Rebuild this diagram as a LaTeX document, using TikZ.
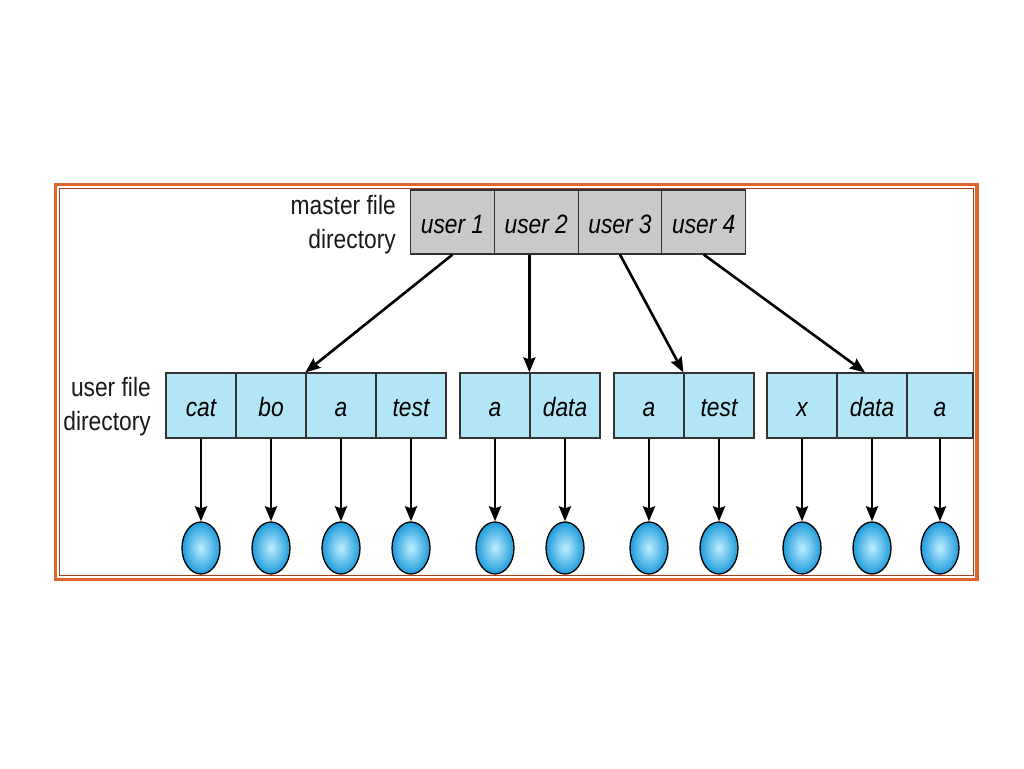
\documentclass[tikz,border=0pt]{standalone}
\usepackage{fontspec}
\setmainfont{Liberation Sans}[FakeStretch=0.86]
\usetikzlibrary{arrows.meta,shapes.geometric}
\definecolor{frameO}{HTML}{E0652A}
\definecolor{frameB}{HTML}{A8401A}
\definecolor{mgray}{HTML}{C8C9CA}
\definecolor{ublue}{HTML}{B2E6F6}
\definecolor{edgec}{HTML}{333333}
\definecolor{ballin}{HTML}{BDEEFF}
\definecolor{ballout}{HTML}{1E9BDB}
\begin{document}
\begin{tikzpicture}[x=1pt,y=-1pt,
 cellbox/.style={draw=edgec,line width=1.2pt,inner sep=0pt,text height=22pt,text depth=0pt,text=black,font=\fontsize{26.5}{30}\selectfont\itshape},
 mcell/.style={cellbox,fill=mgray,minimum width=83.75pt,minimum height=64pt},
 ucell/.style={cellbox,fill=ublue,minimum width=70pt,minimum height=65pt},
 fileball/.style={ellipse,draw=black,line width=1.3pt,inner sep=0pt,minimum width=38pt,minimum height=52pt,inner color=ballin,outer color=ballout},
 ptr/.style={line width=2.6pt,-{Stealth[length=15pt,width=12pt,inset=2pt]}},
 lbl/.style={align=right,font=\fontsize{26.5}{34}\selectfont,text=black!90,inner sep=0pt}]
\useasboundingbox (0,0) rectangle (1024,768);
% frame
\draw[frameO,line width=3.5pt] (55.5,184.5) rectangle (977,579.5);
\draw[frameB,line width=1.5pt] (59.5,188.5) rectangle (973.5,575.5);
% master file directory
\node[mcell] (m1) at (452.5,222) {user 1};
\node[mcell] (m2) at (536.25,222) {user 2};
\node[mcell] (m3) at (620,222) {user 3};
\node[mcell] (m4) at (703.75,222) {user 4};
\node[lbl,anchor=east] (mlab) at (396,225) {master file\\directory};
% user file directories
\node[ucell] (a1) at (201,405.5) {cat};
\node[ucell] (a2) at (271,405.5) {bo};
\node[ucell] (a3) at (341,405.5) {a};
\node[ucell] (a4) at (411,405.5) {test};
\node[ucell] (b1) at (495,405.5) {a};
\node[ucell] (b2) at (565,405.5) {data};
\node[ucell] (c1) at (649,405.5) {a};
\node[ucell] (c2) at (719,405.5) {test};
\node[ucell] (d1) at (802,405.5) {x};
\node[ucell] (d2) at (872,405.5) {data};
\node[ucell,minimum width=66pt] (d3) at (940,405.5) {a};
\node[lbl,anchor=east] (ulab) at (151,407) {user file\\directory};
% files
\coordinate (row) at (0,548);
\foreach \n in {a1,a2,a3,a4,b1,b2,c1,c2,d1,d2,d3}{
  \node[fileball] (f\n) at (\n |- row) {};
  \draw[ptr] (\n.south) -- (f\n.north);
}
% master pointers
\draw[ptr] (m1.south) -- (a3.north west);
\draw[ptr] (m2.south -| b2.north west) -- (b2.north west);
\draw[ptr] (m3.south) -- (c2.north west);
\draw[ptr] (m4.south) -- ([xshift=-7pt]d2.north);
\end{tikzpicture}
\end{document}
